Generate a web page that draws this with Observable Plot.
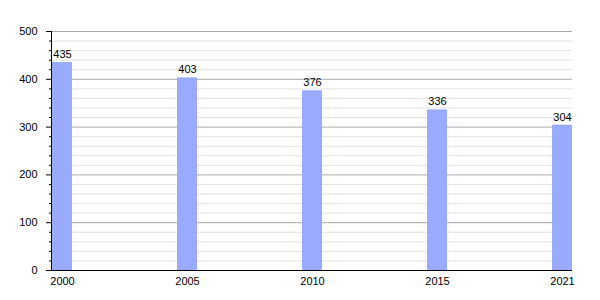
<!DOCTYPE html>
<html><head><meta charset="utf-8">
<script src="https://cdn.jsdelivr.net/npm/d3@7"></script>
<script src="https://cdn.jsdelivr.net/npm/@observablehq/plot@0.6"></script>
<style>body{margin:0;background:#fff;font-family:"Liberation Sans",Arial,sans-serif}</style>
</head><body><div id="chart"></div>
<script>
const years = ["2000", "2005", "2010", "2015", "2021"];
const population = [435, 403, 376, 336, 304];
const majorTicks = [0, 100, 200, 300, 400, 500];
const minorTicks = d3.range(0, 501, 20).filter(v => v % 100 !== 0);

const data = years.map((y, i) => ({year: y, value: population[i]}));

const chart = Plot.plot({
  width: 600, height: 300,
  marginLeft: 51, marginRight: 28, marginTop: 31, marginBottom: 30,
  style: {fontFamily: "Liberation Sans, Arial, sans-serif", fontSize: "11px", color: "#000", background: "#fff"},
  x: {domain: years, paddingInner: 0.84, paddingOuter: 0, label: null},
  y: {domain: [0, 500], label: null},
  marks: [
    Plot.ruleY(minorTicks, {stroke: "#e3e3e3", strokeWidth: 1}),
    Plot.ruleY(majorTicks.filter(v => v > 0), {stroke: "#aaa", strokeWidth: 1}),
    Plot.barY(data, {x: "year", y: "value", fill: "#99aaff"}),
    Plot.text(data, {x: "year", y: "value", text: d => String(d.value), dy: -8, fill: "#000", fontSize: 11}),
    Plot.axisY({ticks: majorTicks, tickSize: 5, tickPadding: 9, fontSize: 11, label: null}),
    Plot.axisY({ticks: minorTicks, tickSize: 2, tickFormat: () => "", label: null}),
    Plot.axisX({tickSize: 0, tickPadding: 7, fontSize: 11, label: null}),
    Plot.frame({anchor: "left", stroke: "#000"}),
    Plot.ruleY([0], {stroke: "#000"})
  ]
});
document.getElementById("chart").appendChild(chart);
</script></body></html>
